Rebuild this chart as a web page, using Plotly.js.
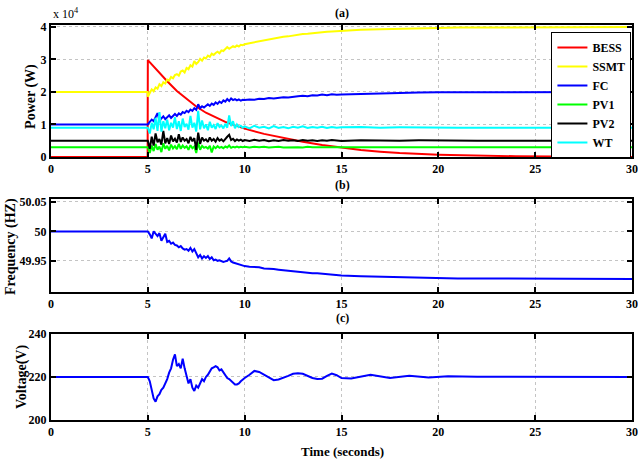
<!DOCTYPE html>
<html>
<head>
<meta charset="utf-8">
<script src="https://cdn.plot.ly/plotly-3.0.1.min.js"></script>
<style>
  html, body { margin: 0; padding: 0; background: #fff; }
  #chart { width: 638px; height: 462px; }
</style>
</head>
<body>
<div id="chart"></div>
<script>
// Simulation time (s) for the power and frequency traces
const tPow = [0, 4.99,
  5.0, 5.1, 5.2, 5.3, 5.4, 5.5, 5.6, 5.7, 5.8, 5.9,
  6.0, 6.1, 6.2, 6.3, 6.4, 6.5, 6.6, 6.7, 6.8, 6.9,
  7.0, 7.1, 7.2, 7.3, 7.4, 7.5, 7.6, 7.7, 7.8, 7.9,
  8.0, 8.1, 8.2, 8.3, 8.4, 8.5, 8.6, 8.7, 8.8, 8.9,
  9.0, 9.1, 9.2, 9.3, 9.4, 9.5, 9.6, 9.7, 9.8, 9.9,
  10.0, 10.25, 10.5, 10.75, 11.0, 11.25, 11.5, 11.75, 12.0, 12.25, 12.5,
  12.75, 13.0, 13.25, 13.5, 13.75, 14.0, 14.25, 14.5, 14.75, 15.0,
  16, 17, 18, 19, 20, 21, 22, 23, 24, 25, 26, 27, 28, 29, 30];

// Battery storage output (x 10^4 W), smooth decay after the step at 5 s
const tBess = [0, 4.99, 5, 5.5, 6, 6.5, 7, 7.5, 8, 8.5, 9, 9.5, 10, 11, 12, 13, 14, 15, 16, 17, 18, 20, 22, 24, 26, 28, 30];
const bess  = [0, 0, 2.98, 2.64, 2.33, 2.03, 1.78, 1.55, 1.36, 1.21, 1.08, 0.97, 0.87, 0.71, 0.58, 0.47, 0.37, 0.28, 0.21, 0.16, 0.12, 0.07, 0.04, 0.02, 0.01, 0.0, 0.0];

// Power of each source (x 10^4 W)
const ssmt = [2.0, 2.0,
  1.85, 1.95, 2.08, 2.02, 2.14, 2.10, 2.24, 2.18, 2.30, 2.26,
  2.38, 2.35, 2.46, 2.42, 2.52, 2.55, 2.50, 2.63, 2.66, 2.60,
  2.74, 2.70, 2.82, 2.78, 2.95, 2.86, 2.92, 3.02, 2.96, 3.06,
  3.03, 3.12, 3.08, 3.18, 3.14, 3.20, 3.24, 3.19, 3.28, 3.26,
  3.32, 3.38, 3.33, 3.36, 3.41, 3.38, 3.43, 3.40, 3.45, 3.44,
  3.47, 3.50, 3.53, 3.55, 3.59, 3.61, 3.64, 3.66, 3.70, 3.71, 3.74,
  3.75, 3.78, 3.79, 3.81, 3.82, 3.84, 3.85, 3.86, 3.87, 3.88,
  3.91, 3.93, 3.95, 3.96, 3.97, 3.98, 3.98, 3.99, 3.99, 3.99, 4.0, 4.0, 4.0, 4.0, 4.0];

const fc = [1.0, 1.0,
  1.00, 1.08, 1.15, 1.10, 1.22, 1.35, 1.12, 1.18, 1.25, 1.16,
  1.22, 1.28, 1.20, 1.27, 1.32, 1.26, 1.34, 1.30, 1.38, 1.35,
  1.42, 1.38, 1.46, 1.42, 1.50, 1.45, 1.62, 1.50, 1.56, 1.52,
  1.58, 1.62, 1.57, 1.64, 1.60, 1.68, 1.63, 1.70, 1.66, 1.74,
  1.70, 1.78, 1.72, 1.80, 1.75, 1.78, 1.74, 1.77, 1.73, 1.76,
  1.75, 1.77, 1.76, 1.79, 1.78, 1.81, 1.80, 1.83, 1.84, 1.83, 1.86,
  1.87, 1.88, 1.87, 1.90, 1.89, 1.92, 1.90, 1.93, 1.91, 1.92,
  1.94, 1.96, 1.97, 1.98, 1.99, 1.99, 2.0, 2.0, 2.0, 2.0, 2.0, 2.0, 2.0, 2.0, 2.0];

const pv1 = [0.3, 0.3,
  0.30, 0.12, 0.35, 0.18, 0.40, 0.22, 0.32, 0.15, 0.42, 0.25,
  0.34, 0.20, 0.38, 0.26, 0.33, 0.24, 0.40, 0.25, 0.35, 0.28,
  0.33, 0.22, 0.36, 0.27, 0.32, 0.12, 0.44, 0.22, 0.34, 0.28,
  0.31, 0.26, 0.34, 0.14, 0.32, 0.27, 0.33, 0.28, 0.31, 0.27,
  0.32, 0.29, 0.35, 0.28, 0.31, 0.29, 0.32, 0.29, 0.31, 0.30,
  0.31, 0.29, 0.31, 0.30, 0.31, 0.29, 0.30, 0.31, 0.29, 0.30, 0.31,
  0.30, 0.29, 0.31, 0.30, 0.30, 0.31, 0.29, 0.30, 0.30, 0.30,
  0.30, 0.30, 0.30, 0.30, 0.30, 0.30, 0.30, 0.30, 0.30, 0.30, 0.30, 0.30, 0.30, 0.30, 0.30];

const pv2 = [0.5, 0.5,
  0.50, 0.25, 0.62, 0.35, 0.72, 0.45, 0.55, 0.38, 0.80, 0.42,
  0.58, 0.40, 0.66, 0.48, 0.56, 0.44, 0.70, 0.46, 0.60, 0.50,
  0.55, 0.42, 0.62, 0.48, 0.58, 0.22, 0.75, 0.40, 0.60, 0.50,
  0.54, 0.46, 0.60, 0.50, 0.55, 0.47, 0.58, 0.50, 0.54, 0.48,
  0.56, 0.62, 0.68, 0.52, 0.56, 0.49, 0.54, 0.50, 0.53, 0.49,
  0.52, 0.49, 0.53, 0.50, 0.52, 0.48, 0.51, 0.49, 0.52, 0.50, 0.51,
  0.49, 0.52, 0.50, 0.51, 0.49, 0.51, 0.50, 0.52, 0.50, 0.49,
  0.51, 0.50, 0.50, 0.51, 0.50, 0.50, 0.50, 0.50, 0.50, 0.50, 0.50, 0.50, 0.50, 0.50, 0.50];

const wt = [0.9, 0.9,
  0.90, 0.72, 1.05, 0.85, 1.20, 0.80, 1.38, 0.78, 1.10, 0.88,
  1.15, 0.82, 1.05, 0.90, 1.22, 0.86, 1.10, 0.80, 1.18, 0.92,
  1.02, 0.84, 1.26, 0.90, 1.05, 0.78, 1.42, 0.85, 1.12, 0.88,
  1.00, 0.82, 1.08, 0.90, 0.98, 0.86, 1.04, 0.92, 0.97, 0.88,
  1.02, 0.90, 1.28, 0.95, 1.10, 0.88, 1.00, 0.92, 0.96, 0.90,
  0.94, 0.88, 0.96, 0.90, 0.93, 0.88, 0.95, 0.89, 0.92, 0.88, 0.93,
  0.90, 0.94, 0.89, 0.92, 0.90, 0.93, 0.89, 0.92, 0.90, 0.91,
  0.92, 0.90, 0.91, 0.90, 0.91, 0.90, 0.90, 0.91, 0.90, 0.90, 0.90, 0.90, 0.90, 0.90, 0.90];

// Grid frequency (Hz)
const freq = [50.0, 50.0,
  50.000, 49.995, 49.988, 50.000, 49.996, 49.992, 49.997, 49.984, 49.990, 49.996,
  49.982, 49.984, 49.979, 49.981, 49.977, 49.976, 49.973, 49.975, 49.971, 49.969,
  49.970, 49.967, 49.972, 49.966, 49.970, 49.964, 49.956, 49.960, 49.954, 49.958,
  49.955, 49.958, 49.953, 49.956, 49.951, 49.952, 49.950, 49.951, 49.949, 49.948,
  49.949, 49.950, 49.954, 49.949, 49.947, 49.946, 49.945, 49.944, 49.943, 49.942,
  49.941, 49.940, 49.940, 49.939, 49.937, 49.937, 49.936, 49.935, 49.934, 49.933, 49.933,
  49.932, 49.931, 49.930, 49.929, 49.929, 49.928, 49.928, 49.927, 49.926, 49.925,
  49.924, 49.923, 49.922, 49.921, 49.921, 49.920, 49.920, 49.920, 49.919, 49.919,
  49.919, 49.919, 49.919, 49.919, 49.919];

// Bus voltage (V) and its own time base
const tVolt = [0, 4.99,
  5.0, 5.1, 5.2, 5.3, 5.4, 5.5, 5.6, 5.7, 5.8, 5.9,
  6.0, 6.1, 6.2, 6.3, 6.4, 6.5, 6.6, 6.7, 6.8, 6.9,
  7.0, 7.1, 7.2, 7.3, 7.4, 7.5, 7.6, 7.7, 7.8, 7.9,
  8.0, 8.1, 8.2, 8.3, 8.4, 8.5, 8.6, 8.7, 8.8, 8.9,
  9.0, 9.1, 9.2, 9.3, 9.4, 9.5, 9.6, 9.7, 9.8, 9.9,
  10.0, 10.25, 10.5, 10.75, 11.0, 11.25, 11.5, 11.75, 12.0, 12.25, 12.5,
  12.75, 13.0, 13.25, 13.5, 13.75, 14.0, 14.25, 14.5, 14.75, 15.0,
  15.5, 16.5, 17.5, 18.5, 19.5, 20.5, 22, 24, 26, 28, 30];
const volt = [220, 220,
  220.0, 218.0, 214.0, 210.0, 208.5, 211.0, 212.0, 214.0, 215.0, 217.0,
  219.0, 222.0, 224.0, 228.0, 230.5, 225.0, 226.0, 224.0, 228.5, 224.0,
  221.0, 217.0, 219.0, 215.0, 213.5, 216.0, 215.0, 217.0, 219.0, 218.0,
  220.0, 221.0, 222.5, 224.0, 224.5, 225.0, 224.5, 223.0, 223.5, 222.0,
  221.0, 219.5, 219.0, 218.0, 217.0, 216.5, 216.5, 217.0, 218.0, 219.0,
  219.5, 221.0, 222.8, 222.3, 221.0, 219.5, 218.5, 218.8, 219.5, 220.5, 221.5,
  221.7, 221.5, 220.5, 219.5, 219.0, 219.2, 220.5, 221.6, 220.8, 219.5,
  219.3, 221.0, 219.5, 220.6, 219.8, 220.3, 220.1, 220.0, 220.0, 220.0, 220.0];

const xTicks = [0, 5, 10, 15, 20, 25, 30];
const powerTicks = [0, 1, 2, 3, 4];
const freqTicks = [49.95, 50, 50.05];
const freqTickText = ['49.95', '50', '50.05'];
const voltTicks = [200, 220, 240];

const serif = 'Liberation Serif, Times New Roman, serif';
const boldFont = (size) => ({ family: serif, size: size, color: '#000', weight: 'bold' });

function line(x, y, color, name, xa, ya, legend) {
  return {
    x: x, y: y, type: 'scatter', mode: 'lines', name: name,
    xaxis: xa, yaxis: ya, showlegend: legend,
    line: { color: color, width: 2 }
  };
}

const traces = [
  line(tBess, bess, '#ff0000', 'BESS', 'x', 'y', true),
  line(tPow, ssmt, '#ffff00', 'SSMT', 'x', 'y', true),
  line(tPow, fc, '#0000ff', 'FC', 'x', 'y', true),
  line(tPow, pv1, '#00ff00', 'PV1', 'x', 'y', true),
  line(tPow, pv2, '#000000', 'PV2', 'x', 'y', true),
  line(tPow, wt, '#00ffff', 'WT', 'x', 'y', true),
  line(tPow, freq, '#0000ff', 'Frequency', 'x2', 'y2', false),
  line(tVolt, volt, '#0000ff', 'Voltage', 'x3', 'y3', false)
];

const axisBase = {
  ticks: 'inside', ticklen: 5, tickwidth: 2, tickcolor: '#000',
  showline: true, linewidth: 2, linecolor: '#000', mirror: 'ticks',
  showgrid: true, gridcolor: '#c4c4c4', griddash: 'dot', gridwidth: 1,
  zeroline: false, tickfont: boldFont(12), fixedrange: true, automargin: false
};
const xAxis = (anchor) => Object.assign({}, axisBase, {
  anchor: anchor, range: [0, 30], tickmode: 'array', tickvals: xTicks, domain: [0, 1]
});

// Text placed in paper coordinates, centred on the given point
function label(text, x, y, font, angle) {
  return { text: text, x: x, y: y, xref: 'paper', yref: 'paper',
    xanchor: 'center', yanchor: 'middle', showarrow: false,
    textangle: angle || 0, font: font };
}

const layout = {
  width: 638, height: 462,
  margin: { l: 51, r: 6, t: 25, b: 42, autoexpand: false },
  paper_bgcolor: '#fff', plot_bgcolor: '#fff',
  xaxis: xAxis('y'),
  xaxis2: xAxis('y2'),
  xaxis3: xAxis('y3'),
  yaxis: Object.assign({}, axisBase, {
    anchor: 'x', domain: [0.666, 1], range: [0, 4.06], tickmode: 'array', tickvals: powerTicks
  }),
  yaxis2: Object.assign({}, axisBase, {
    anchor: 'x2', domain: [0.324, 0.5595], range: [49.897, 50.055],
    tickmode: 'array', tickvals: freqTicks, ticktext: freqTickText
  }),
  yaxis3: Object.assign({}, axisBase, {
    anchor: 'x3', domain: [0, 0.218], range: [200, 240], tickmode: 'array', tickvals: voltTicks
  }),
  showlegend: true,
  legend: {
    x: 0.999, y: 0.982, xanchor: 'right', yanchor: 'top',
    bgcolor: '#fff', bordercolor: '#000', borderwidth: 1,
    font: boldFont(12), tracegroupgap: 0, itemwidth: 30
  },
  annotations: [
    Object.assign(label('x 10<sup>4</sup>', 0, 1.028, { family: serif, size: 12, color: '#000' }),
      { xanchor: 'left' }),
    label('(a)', 0.501, 1.030, boldFont(12)),
    label('(b)', 0.501, 0.595, boldFont(12)),
    label('(c)', 0.501, 0.258, boldFont(12)),
    label('Time (seconds)', 0.501, -0.081, boldFont(13)),
    label('Power (W)', -0.0344, 0.818, boldFont(14), -90),
    label('Frequency (HZ)', -0.0688, 0.438, boldFont(14), -90),
    label('Voltage(V)', -0.0499, 0.109, boldFont(14), -90)
  ]
};

Plotly.newPlot('chart', traces, layout, { staticPlot: true, displayModeBar: false });
</script>
</body>
</html>
